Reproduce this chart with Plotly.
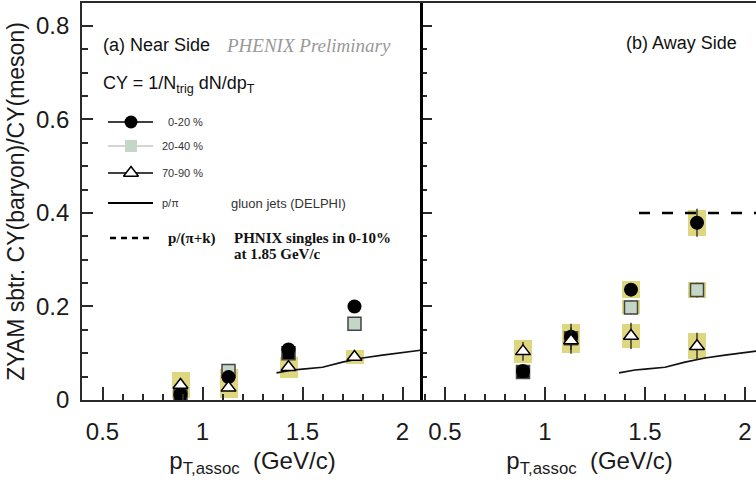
import plotly.graph_objects as go

# associated-particle pT bins (GeV/c)
pt = [0.89, 1.13, 1.43, 1.76]

# near side baryon/meson ratios by centrality
near_0_20 = [0.012, 0.049, 0.108, 0.200]
near_20_40 = [0.008, 0.062, 0.100, 0.163]
near_70_90 = [0.032, 0.026, 0.070, 0.092]

# away side baryon/meson ratios by centrality
away_0_20 = [0.062, 0.135, 0.236, 0.379]
away_20_40 = [0.060, 0.132, 0.198, 0.235]
away_70_90 = [0.104, 0.127, 0.137, 0.115]

# statistical errors
away_err_0_20 = [0, 0.028, 0, 0.030]
away_err_20_40 = [0, 0, 0.015, 0.016]
away_err_70_90 = [0.020, 0.028, 0.028, 0.029]

# systematic half-widths (boxes)
near_sys_0_20 = [0, 0.018, 0, 0]
near_sys_70_90 = [0.027, 0.022, 0.022, 0.014]
away_sys_0_20 = [0, 0.027, 0.018, 0.028]
away_sys_20_40 = [0, 0, 0.015, 0.017]
away_sys_70_90 = [0.025, 0.027, 0.026, 0.028]

# p/pi in gluon jets (DELPHI)
delphi_pt = [1.37, 1.45, 1.5, 1.6, 1.7, 1.8, 1.9, 2.0, 2.1]
delphi_ratio = [0.058, 0.064, 0.066, 0.070, 0.081, 0.090, 0.096, 0.101, 0.107]

# PHENIX singles p/(pi+K) in 0-10% at 1.85 GeV/c
singles_pt = [1.47, 2.1]
singles_ratio = [0.40, 0.40]

SQ = "#c4d6c6"
BOX = "rgb(222,215,128)"
near_sq_fill = ["black", SQ, "black", SQ]
away_sq_fill = ["black", "black", SQ, SQ]

fig = go.Figure()


def add_panel(xa, ya, c0, c1, c2, s0, s1, s2, e0, e1, e2, f1):
    for vals, sys in ((c0, s0), (c1, s1), (c2, s2)):
        if sys is None:
            continue
        fig.add_trace(go.Bar(
            x=pt, y=[2 * s for s in sys], base=[v - s for v, s in zip(vals, sys)],
            width=0.09, marker=dict(color=BOX, line=dict(width=0)),
            xaxis=xa, yaxis=ya, showlegend=False, hoverinfo="skip"))
    fig.add_trace(go.Scatter(
        x=delphi_pt, y=delphi_ratio, mode="lines",
        line=dict(color="#111", width=1.6), xaxis=xa, yaxis=ya, showlegend=False))

    def err(e):
        if e is None:
            return None
        return dict(type="data", array=e, visible=True, width=0,
                    thickness=1.3, color="#222")

    fig.add_trace(go.Scatter(
        x=pt, y=c1, mode="markers", error_y=err(e1),
        marker=dict(symbol="square", size=13, color=f1,
                    line=dict(color="#444", width=1.5)),
        xaxis=xa, yaxis=ya, showlegend=False))
    fig.add_trace(go.Scatter(
        x=pt, y=c0, mode="markers", error_y=err(e0),
        marker=dict(symbol="circle", size=14, color="black",
                    line=dict(color="black", width=0)),
        xaxis=xa, yaxis=ya, showlegend=False))
    fig.add_trace(go.Scatter(
        x=pt, y=c2, mode="markers", error_y=err(e2),
        marker=dict(symbol="triangle-up", size=13, color="white",
                    line=dict(color="black", width=1.5)),
        xaxis=xa, yaxis=ya, showlegend=False))


add_panel("x", "y", near_0_20, near_20_40, near_70_90,
          near_sys_0_20, None, near_sys_70_90, None, None, None, near_sq_fill)
add_panel("x2", "y2", away_0_20, away_20_40, away_70_90,
          away_sys_0_20, away_sys_20_40, away_sys_70_90,
          away_err_0_20, away_err_20_40, away_err_70_90, away_sq_fill)

fig.add_trace(go.Scatter(
    x=singles_pt, y=singles_ratio, mode="lines",
    line=dict(color="black", width=2.6, dash="11px,12px"),
    xaxis="x2", yaxis="y2", showlegend=False))

# legend glyphs, drawn in a page-pixel overlay
LX = [108, 153]
LMID = 131
leg_rows = [122, 146, 173, 203, 238]
fig.add_trace(go.Scatter(x=LX, y=[leg_rows[0]] * 2, mode="lines",
                         line=dict(color="black", width=1.5), xaxis="x3", yaxis="y3", showlegend=False))
fig.add_trace(go.Scatter(x=[LMID], y=[leg_rows[0]], mode="markers",
                         marker=dict(symbol="circle", size=13, color="black"),
                         xaxis="x3", yaxis="y3", showlegend=False))
fig.add_trace(go.Scatter(x=LX, y=[leg_rows[1]] * 2, mode="lines",
                         line=dict(color="#aaa", width=1.2), xaxis="x3", yaxis="y3", showlegend=False))
fig.add_trace(go.Scatter(x=[LMID], y=[leg_rows[1]], mode="markers",
                         marker=dict(symbol="square", size=12, color=SQ),
                         xaxis="x3", yaxis="y3", showlegend=False))
fig.add_trace(go.Scatter(x=LX, y=[leg_rows[2]] * 2, mode="lines",
                         line=dict(color="black", width=1.5), xaxis="x3", yaxis="y3", showlegend=False))
fig.add_trace(go.Scatter(x=[LMID], y=[leg_rows[2]], mode="markers",
                         marker=dict(symbol="triangle-up", size=13, color="white",
                                     line=dict(color="black", width=1.5)),
                         xaxis="x3", yaxis="y3", showlegend=False))
fig.add_trace(go.Scatter(x=LX, y=[leg_rows[3]] * 2, mode="lines",
                         line=dict(color="black", width=2), xaxis="x3", yaxis="y3", showlegend=False))
fig.add_trace(go.Scatter(x=[110, 153], y=[leg_rows[4]] * 2, mode="lines",
                         line=dict(color="black", width=2.5, dash="6px,5px"),
                         xaxis="x3", yaxis="y3", showlegend=False))

SANS = "Liberation Sans, Arial, sans-serif"
SERIF = "Liberation Serif, Times New Roman, serif"


def txt(x, y, text, size, color="#111", family=SANS, weight="normal", style="normal"):
    fig.add_annotation(x=x, y=y, xref="x3", yref="y3", text=text, showarrow=False,
                       xanchor="left", yanchor="middle",
                       font=dict(size=size, color=color, family=family,
                                 weight=weight, style=style))


txt(101, 45, "(a) Near Side", 18)
txt(224, 45, "PHENIX Preliminary", 19, color="#999", family=SERIF, style="italic")
txt(101, 84, "CY = 1/N<sub>trig</sub> dN/dp<sub>T</sub>", 18)
txt(624, 43, "(b) Away Side", 18)
txt(166, leg_rows[0], "0-20 %", 11, color="#333")
txt(160, leg_rows[1], "20-40 %", 11, color="#333")
txt(160, leg_rows[2], "70-90 %", 11, color="#333")
txt(160, leg_rows[3], "p/π", 11, color="#333")
txt(229, leg_rows[3], "gluon jets (DELPHI)", 13, color="#333")
txt(166, leg_rows[4], "p/(π+k)", 15, family=SERIF, weight="bold")
txt(232, leg_rows[4], "PHNIX singles in 0-10%", 15, family=SERIF, weight="bold")
txt(232, 254, "at 1.85 GeV/c", 15, family=SERIF, weight="bold")

SPLIT = (423 - 82) / 674
YR = [0, 0.849]
AX = "#2a2a2a"
tickfont = dict(size=24, color="#1a1a1a", family=SANS)
xtitle = dict(text="p<sub>T,assoc</sub>  (GeV/c)", font=dict(size=24, color="#1a1a1a", family=SANS),
              standoff=8)

xcommon = dict(showgrid=False, zeroline=False, showline=True, linecolor=AX, linewidth=2,
               mirror=True, ticks="inside", ticklen=13, tickwidth=1.5, tickcolor=AX,
               tick0=0.5, dtick=0.5, tickfont=tickfont, ticklabelstandoff=9,
               minor=dict(ticks="inside", ticklen=6, dtick=0.1, tick0=0.5,
                          tickwidth=1.5, tickcolor=AX),
               title=xtitle)

fig.update_layout(
    width=756, height=489,
    margin=dict(l=82, r=0, t=3, b=89),
    paper_bgcolor="white", plot_bgcolor="rgba(0,0,0,0)",
    barmode="overlay", bargap=0,
    xaxis=dict(domain=[0, SPLIT], range=[0.3975, 2.1025], anchor="y", **xcommon),
    xaxis2=dict(domain=[SPLIT, 1], range=[0.39, 2.055], anchor="y2", **xcommon),
    yaxis=dict(domain=[0, 1], range=YR, anchor="x", showgrid=False, zeroline=False,
               showline=True, linecolor=AX, linewidth=1.6,
               ticks="inside", ticklen=11, tickwidth=1.5, tickcolor=AX, dtick=0.2,
               tickfont=tickfont, ticklabelstandoff=6,
               minor=dict(ticks="inside", ticklen=6, dtick=0.05, tickwidth=1.5, tickcolor=AX),
               title=dict(text="ZYAM sbtr. CY(baryon)/CY(meson)",
                          font=dict(size=23, color="#1a1a1a", family=SANS), standoff=5)),
    yaxis2=dict(domain=[0, 1], range=YR, anchor="x2", showgrid=False, zeroline=False,
                showline=True, linecolor="black", linewidth=3,
                ticks="inside", ticklen=9, tickwidth=1.5, tickcolor=AX, dtick=0.2,
                showticklabels=False,
                minor=dict(ticks="inside", ticklen=4, dtick=0.05, tickwidth=1.5, tickcolor=AX)),
    yaxis4=dict(range=YR, overlaying="y2", anchor="x2", side="right", showgrid=False,
                zeroline=False, showline=False, ticks="inside", ticklen=6, tickwidth=1.5,
                tickcolor=AX, dtick=0.2, showticklabels=False,
                minor=dict(ticks="inside", ticklen=3, dtick=0.05, tickwidth=1.5, tickcolor=AX)),
    xaxis3=dict(domain=[0, 1], range=[82, 756], anchor="y3", visible=False),
    yaxis3=dict(domain=[0, 1], range=[400, 3], anchor="x3", visible=False),
)

fig.write_html("out.html")
